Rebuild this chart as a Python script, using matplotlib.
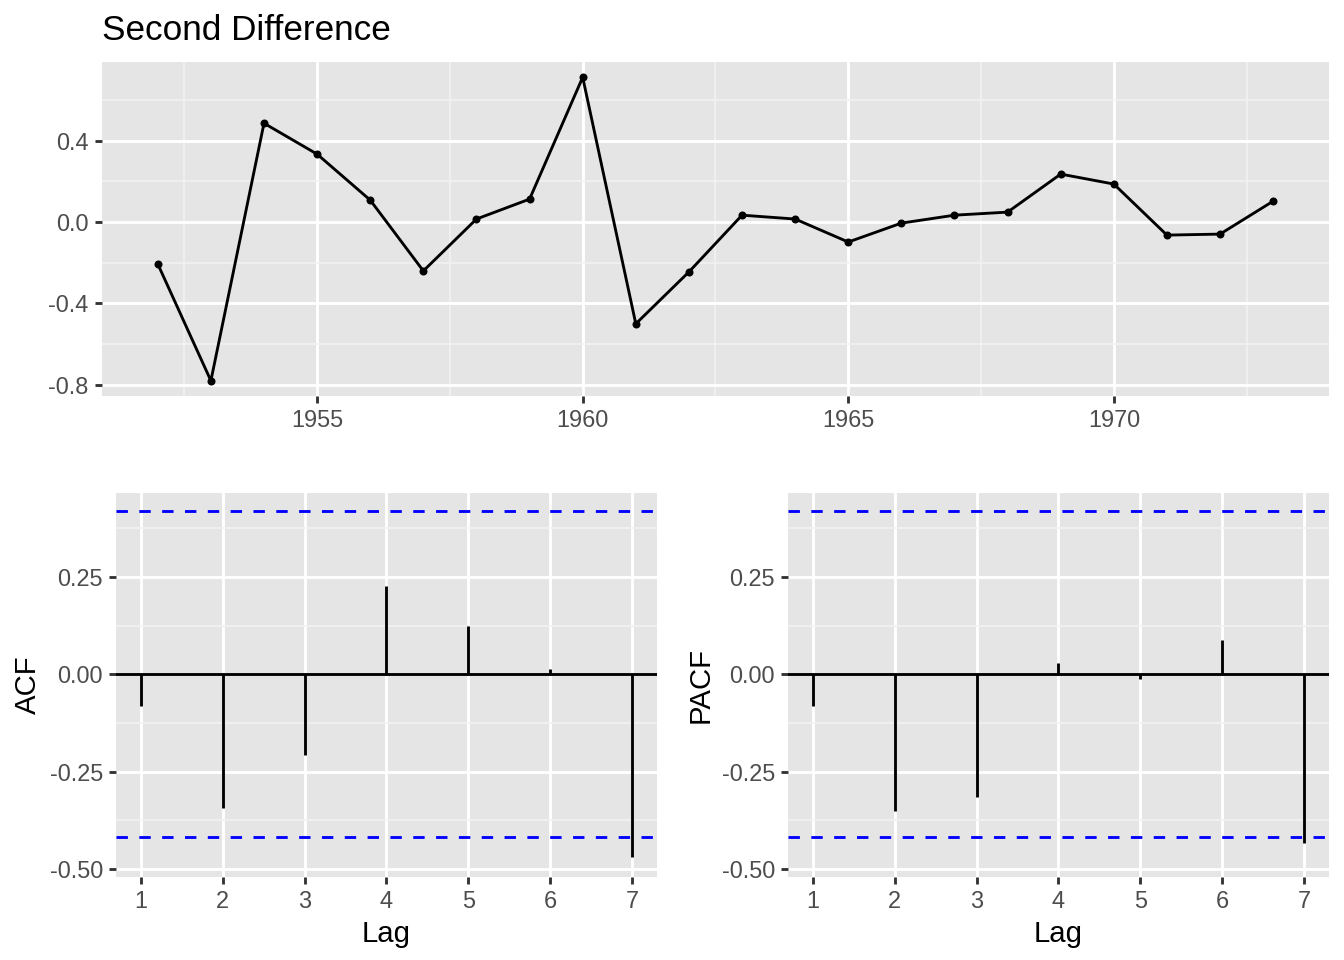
import matplotlib
matplotlib.use('Agg')
from matplotlib import pyplot as plt
from matplotlib.ticker import FixedLocator, FormatStrFormatter

plt.rcParams['font.family'] = ['Liberation Sans', 'DejaVu Sans']
plt.rcParams['axes.unicode_minus'] = False

# second differenced series, one value per year
years = [1952, 1953, 1954, 1955, 1956, 1957, 1958, 1959, 1960, 1961, 1962,
         1963, 1964, 1965, 1966, 1967, 1968, 1969, 1970, 1971, 1972, 1973]
diff2 = [-0.206, -0.780, 0.486, 0.334, 0.108, -0.240, 0.015, 0.113, 0.712, -0.500, -0.245,
         0.034, 0.015, -0.098, -0.005, 0.034, 0.049, 0.236, 0.187, -0.064, -0.059, 0.103]

lags = [1, 2, 3, 4, 5, 6, 7]
acf = [-0.082, -0.342, -0.208, 0.226, 0.123, 0.013, -0.470]
pacf = [-0.082, -0.352, -0.316, 0.028, -0.013, 0.087, -0.432]
ci = 0.418

bg = '#E5E5E5'
lw = 1.07


def gg_axes(ax, xminor=True):
    ax.set_facecolor(bg)
    for s in ax.spines.values():
        s.set_visible(False)
    ax.grid(True, which='major', color='white', lw=lw)
    ax.yaxis.grid(True, which='minor', color='#F2F2F2', lw=0.6)
    if xminor:
        ax.xaxis.grid(True, which='minor', color='#F2F2F2', lw=0.6)
    ax.set_axisbelow(True)
    ax.tick_params(which='major', length=2.75, width=lw, color='#333333',
                   labelcolor='#4D4D4D', labelsize=8.8, pad=2.2)
    ax.tick_params(which='minor', length=0)


fig = plt.figure(figsize=(7, 5), dpi=192)

# top: time plot
ax = fig.add_axes([0.0759, 0.5875, 0.9129, 0.3479])
gg_axes(ax)
ax.plot(years, diff2, color='black', lw=lw, marker='o', markersize=2.0, zorder=3)
ax.set_xlim(1950.95, 1974.05)
ax.set_ylim(-0.855, 0.787)
ax.xaxis.set_major_locator(FixedLocator([1955, 1960, 1965, 1970]))
ax.xaxis.set_minor_locator(FixedLocator([1952.5, 1957.5, 1962.5, 1967.5, 1972.5]))
ax.yaxis.set_major_locator(FixedLocator([-0.8, -0.4, 0.0, 0.4]))
ax.yaxis.set_minor_locator(FixedLocator([-0.6, -0.2, 0.2, 0.6]))
ax.yaxis.set_major_formatter(FormatStrFormatter('%.1f'))
fig.text(102 / 1344, 1 - 40 / 960, 'Second Difference', fontsize=13.2,
         ha='left', va='baseline')

# bottom: ACF and PACF
for left, vals, name in [(0.0863, acf, 'ACF'), (0.5863, pacf, 'PACF')]:
    ax = fig.add_axes([left, 0.0865, 0.4025, 0.4])
    gg_axes(ax, xminor=False)
    ax.axhline(0, color='black', lw=lw, zorder=2)
    ax.vlines(lags, 0, vals, color='black', lw=lw, zorder=3)
    ax.axhline(ci, color='blue', lw=lw, ls=(0, (4, 4)), zorder=2)
    ax.axhline(-ci, color='blue', lw=lw, ls=(0, (4, 4)), zorder=2)
    ax.set_xlim(0.7, 7.3)
    ax.set_ylim(-0.52, 0.465)
    ax.xaxis.set_major_locator(FixedLocator(lags))
    ax.yaxis.set_major_locator(FixedLocator([-0.5, -0.25, 0.0, 0.25]))
    ax.yaxis.set_minor_locator(FixedLocator([-0.375, -0.125, 0.125, 0.375]))
    ax.yaxis.set_major_formatter(FormatStrFormatter('%.2f'))
    ax.set_xlabel('Lag', fontsize=11, labelpad=2.75)
    ax.set_ylabel(name, fontsize=11, labelpad=2.75)

fig.savefig('out.png', dpi=192)
